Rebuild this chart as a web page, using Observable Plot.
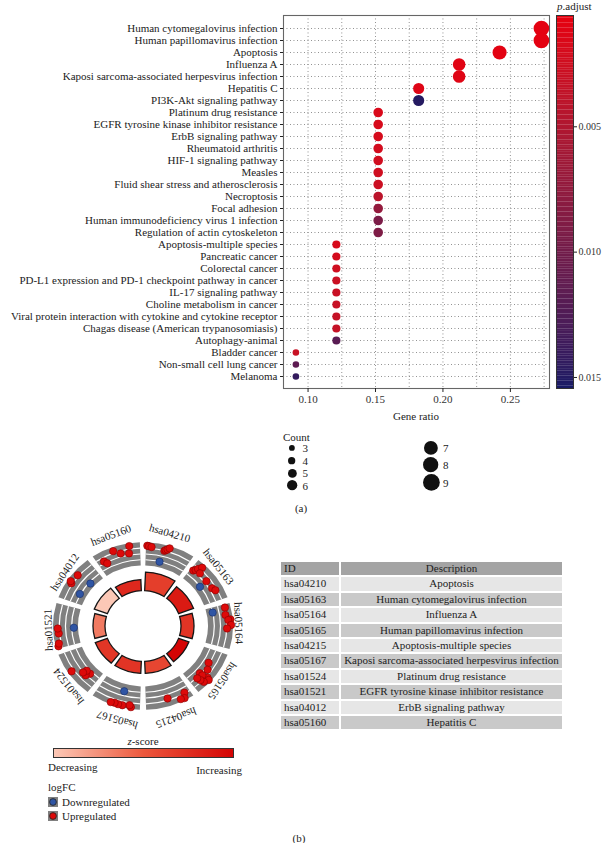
<!DOCTYPE html>
<html><head><meta charset="utf-8">
<script src="https://cdn.jsdelivr.net/npm/d3@7"></script>
<script src="https://cdn.jsdelivr.net/npm/@observablehq/plot@0.6"></script>
<style>
html,body{margin:0;padding:0;background:#fff;}
#root{position:relative;width:603px;height:843px;overflow:hidden;font-family:"Liberation Serif","DejaVu Serif",serif;color:#222;font-size:11px;}
.abs{position:absolute;white-space:nowrap;line-height:1;}
.cell{position:absolute;height:13.4px;line-height:13.6px;font-size:11px;white-space:nowrap;overflow:hidden;box-sizing:border-box;}
</style></head><body><div id="root"></div>
<script>
// ---------------- data: enrichment dot plot (a) ----------------
const terms = ["Human cytomegalovirus infection","Human papillomavirus infection","Apoptosis","Influenza A","Kaposi sarcoma-associated herpesvirus infection","Hepatitis C","PI3K-Akt signaling pathway","Platinum drug resistance","EGFR tyrosine kinase inhibitor resistance","ErbB signaling pathway","Rheumatoid arthritis","HIF-1 signaling pathway","Measles","Fluid shear stress and atherosclerosis","Necroptosis","Focal adhesion","Human immunodeficiency virus 1 infection","Regulation of actin cytoskeleton","Apoptosis-multiple species","Pancreatic cancer","Colorectal cancer","PD-L1 expression and PD-1 checkpoint pathway in cancer","IL-17 signaling pathway","Choline metabolism in cancer","Viral protein interaction with cytokine and cytokine receptor","Chagas disease (American trypanosomiasis)","Autophagy-animal","Bladder cancer","Non-small cell lung cancer","Melanoma"];
const geneRatio = [0.273,0.273,0.242,0.212,0.212,0.182,0.182,0.152,0.152,0.152,0.152,0.152,0.152,0.152,0.152,0.152,0.152,0.152,0.121,0.121,0.121,0.121,0.121,0.121,0.121,0.121,0.121,0.091,0.091,0.091];
const geneCount = [9,9,8,7,7,6,6,5,5,5,5,5,5,5,5,5,5,5,4,4,4,4,4,4,4,4,4,3,3,3];
const pAdjust = [0.0007,0.0007,0.0008,0.0010,0.0011,0.0012,0.0149,0.0016,0.0018,0.0019,0.0021,0.0023,0.0024,0.0027,0.0040,0.0072,0.0092,0.0090,0.0018,0.0020,0.0024,0.0028,0.0029,0.0031,0.0032,0.0032,0.0118,0.0030,0.0115,0.0142];
const xTicks = [0.10,0.15,0.20,0.25];
const xGrid = [0.100,0.125,0.150,0.175,0.200,0.225,0.250,0.275];
const pTicks = [0.005,0.010,0.015];
const countLegendCol1 = [3,4,5,6];
const countLegendCol2 = [7,8,9];

// ---------------- data: GOCircle (b) ----------------
const circleIds = ["hsa04210","hsa05163","hsa05164","hsa05165","hsa04215","hsa05167","hsa01524","hsa01521","hsa04012","hsa05160"];
const circleDesc = ["Apoptosis","Human cytomegalovirus infection","Influenza A","Human papillomavirus infection","Apoptosis-multiple species","Kaposi sarcoma-associated herpesvirus infection","Platinum drug resistance","EGFR tyrosine kinase inhibitor resistance","ErbB signaling pathway","Hepatitis C"];
const tableHeader = ["ID","Description"];
const zScore = [2.12,2.67,2.27,3.00,2.00,2.27,2.24,1.34,0.45,2.45];
const negLogP = [4.0,3.2,2.6,2.2,2.6,2.6,2.6,2.4,2.8,2.4];
const genePos = [
  [0.07,0.10,0.15,0.36,0.40,0.42,0.45,0.48],
  [0.10,0.13,0.15,0.19,0.24,0.45,0.47,0.64,0.71],
  [0.11,0.16,0.26,0.36,0.37,0.47,0.54],
  [0.36,0.50,0.63,0.65,0.66,0.66,0.74,0.76,0.78],
  [0.17,0.22,0.29,0.52],
  [0.23,0.26,0.39,0.43,0.47,0.54,0.61],
  [0.29,0.33,0.39,0.41,0.56],
  [0.11,0.16,0.36,0.46,0.47],
  [0.30,0.41,0.44,0.61,0.64],
  [0.18,0.22,0.43,0.55,0.71,0.74]
];
const geneLogFC = [
  [3.7,3.6,3.4,-0.5,2.9,3.2,3.5,4.0],
  [1.3,1.8,2.5,3.5,1.9,1.7,-0.7,1.8,2.3],
  [2.9,-0.7,2.6,3.8,3.2,3.9,2.8],
  [0.7,1.6,3.0,3.7,0.6,1.5,3.1,2.1,1.1],
  [2.4,3.8,3.6,2.1],
  [3.9,3.4,3.8,-0.3,3.8,3.7,3.9],
  [0.1,1.3,0.2,1.3,3.6],
  [3.9,3.6,3.2,3.4,-1.0],
  [-0.2,3.4,3.9,3.4,-0.8],
  [1.9,1.0,3.6,2.3,1.8,3.9]
];

// ---------------- setup ----------------
const FONT = '"Liberation Serif","DejaVu Serif",serif';
const root = document.getElementById("root");
function place(el, x, y){ el.style.position="absolute"; el.style.left=x+"px"; el.style.top=y+"px"; root.appendChild(el); return el; }
function label(html, x, y, anchor="start", extra=""){
  const el=document.createElement("div"); el.className="abs"; el.innerHTML=html;
  const tx = anchor==="middle"?"-50%":anchor==="end"?"-100%":"0";
  el.style.cssText += `left:${x}px;top:${y}px;transform:translate(${tx},-50%);${extra}`;
  root.appendChild(el); return el;
}

const P_LO = 0.00056, P_HI = 0.01544;
const colorOpts = {type:"linear", domain:[P_LO,P_HI], range:["#e6000f","#141a64"], interpolate:d3.interpolateLab};
const rOpts = {type:"linear", domain:[3,9], range:[3.3,7.8]};
const baseStyle = {fontFamily:FONT, fontSize:"11px", color:"#222", background:"transparent", overflow:"visible"};

const rows = terms.map((t,i)=>({term:t, ratio:geneRatio[i], count:geneCount[i], padj:pAdjust[i]}));

const dotPlot = Plot.plot({
  width:603, height:420, marginLeft:283, marginRight:54, marginTop:15, marginBottom:32,
  style: baseStyle,
  x:{domain:[0.0818,0.279]},
  y:{type:"point", domain:terms, padding:0.57},
  r: rOpts, color: colorOpts,
  marks:[
    Plot.gridX(xGrid, {stroke:"#777", strokeOpacity:1, strokeWidth:0.9, strokeDasharray:"0.9,2.6"}),
    Plot.gridY({stroke:"#777", strokeOpacity:1, strokeWidth:0.9, strokeDasharray:"0.9,2.6"}),
    Plot.frame({stroke:"#666", strokeWidth:1.1}),
    Plot.axisX({ticks:xTicks, tickFormat:d3.format(".2f"), tickSize:4, tickPadding:3, label:null, fill:"#333"}),
    Plot.axisY({tickSize:3, tickPadding:3, label:null, fill:"#222"}),
    Plot.dot(rows, {x:"ratio", y:"term", r:"count", fill:"padj"})
  ]
});
place(dotPlot, 0, 0);

// colour bar
const nSteps = 150, pStep = (P_HI-P_LO)/nSteps;
const steps = d3.range(nSteps).map(i => P_LO + pStep*i);
const cbar = Plot.plot({
  width:47, height:420, marginTop:15, marginBottom:32, marginLeft:0, marginRight:30,
  style: {...baseStyle, fontSize:"10px"},
  y:{domain:[P_LO,P_HI], reverse:true},
  color: colorOpts,
  marks:[
    Plot.rect(steps, {y1:d=>d, y2:d=>Math.min(P_HI, d+pStep*1.05), fill:d=>d}),
    Plot.frame({stroke:"#333", strokeWidth:1}),
    Plot.axisY({anchor:"right", ticks:pTicks, tickFormat:d3.format(".3f"), tickSize:3, tickPadding:2, label:null, fill:"#333", fontSize:10})
  ]
});
place(cbar, 556, 0);
label('<i>p</i>.adjust', 557, 6);
label('Gene ratio', 416, 416, "middle");
label('(a)', 301, 508, "middle");

// size legend (Count)
const rScale = dotPlot.scale("r");
label('Count', 283, 437);
function sizeColumn(vals, cx, firstCenter, tx, boost){
  let r0 = rScale.apply(vals[0]) + boost;
  let top = firstCenter - Math.max(12.4, 2*r0+2)/2;
  for (const v of vals){
    const r = rScale.apply(v) + boost, h = Math.max(12.4, 2*r+2), cy = top + h/2;
    const s = document.createElementNS("http://www.w3.org/2000/svg","svg");
    s.setAttribute("width", 2*r+2); s.setAttribute("height", 2*r+2);
    s.innerHTML = `<circle cx="${r+1}" cy="${r+1}" r="${r}" fill="#111"/>`;
    place(s, cx-r-1, cy-r-1);
    label(String(v), tx, cy);
    top += h;
  }
}
sizeColumn(countLegendCol1, 292, 448.3, 302.5, -0.4);
sizeColumn(countLegendCol2, 431, 448, 443, 0.6);

// ---------------- GOCircle ----------------
const KY = 0.93, SECT = 360/circleIds.length, rad = Math.PI/180;
const BAND_IN = 65, BAND_OUT = 90, BAR_IN = 38;
const lfcR = d3.scaleLinear([-2,4],[66,88]);
const barR = d3.scaleLinear([0,4],[38,58]);
const zColor = d3.scaleLinear([0.45,1.7,3.0],["#fcc8b6","#ec5a3e","#d40404"]);
const RED = "#dd0a0a", BLUE = "#2f55a4";

const genes = [];
genePos.forEach((ps,i)=>ps.forEach((p,j)=>genes.push({term:i, theta:(SECT*i + SECT*p)*rad, lfc:geneLogFC[i][j]})));

function ringMark(index, scales, values, dims){
  const cx = scales && scales.x ? scales.x(0) : dims.width/2;
  const cy = scales && scales.y ? scales.y(0) : dims.height/2;
  const g = d3.create("svg:g").attr("transform",`translate(${cx},${cy}) scale(1,${KY})`);
  circleIds.forEach((id,i)=>{
    const a0 = SECT*i, a1 = SECT*(i+1);
    const band = d3.arc().innerRadius(BAND_IN).outerRadius(BAND_OUT).startAngle((a0+2)*rad).endAngle((a1-2)*rad);
    g.append("path").attr("d", band()).attr("fill","#808080");
    [0.25,0.5,0.75].forEach(f=>{
      const rr = BAND_IN + (BAND_OUT-BAND_IN)*f;
      const ln = d3.arc().innerRadius(rr-0.6).outerRadius(rr+0.6).startAngle((a0+2)*rad).endAngle((a1-2)*rad);
      g.append("path").attr("d", ln()).attr("fill","#fff");
    });
    const bar = d3.arc().innerRadius(BAR_IN).outerRadius(barR(negLogP[i])).startAngle((a0+2.5)*rad).endAngle((a1-2.5)*rad);
    g.append("path").attr("d", bar()).attr("fill", zColor(zScore[i])).attr("stroke","#151515").attr("stroke-width",1.3).attr("vector-effect","non-scaling-stroke");
  });
  return g.node();
}

const circ = Plot.plot({
  width:220, height:220, margin:0,
  style: baseStyle,
  x:{domain:[-110,110], axis:null},
  y:{domain:[-110,110], axis:null},
  marks:[
    ringMark,
    Plot.dot(genes.filter(d=>d.lfc>=0), {x:d=>lfcR(d.lfc)*Math.sin(d.theta), y:d=>lfcR(d.lfc)*Math.cos(d.theta)*KY, r:3.7, fill:RED, stroke:"#8a0000", strokeWidth:0.6}),
    Plot.dot(genes.filter(d=>d.lfc<0), {x:d=>lfcR(d.lfc)*Math.sin(d.theta), y:d=>lfcR(d.lfc)*Math.cos(d.theta)*KY, r:3.7, fill:BLUE, stroke:"#1a2d66", strokeWidth:0.6}),
    Plot.text(circleIds, {
      x:(d,i)=>95*Math.sin((SECT*i+SECT/2-2)*rad),
      y:(d,i)=>97*Math.cos((SECT*i+SECT/2-2)*rad),
      rotate:(d,i)=>SECT*i+SECT/2-2, text:d=>d, fontSize:11, fill:"#222"
    })
  ]
});
place(circ, 33, 516);

// z-score legend
label('<i>z</i>-score', 143, 741, "middle");
const grad = document.createElement("div");
const stops = d3.range(0,1.0001,0.1).map(t=>zColor(0.45+t*(3.0-0.45)));
grad.style.cssText = `width:179px;height:8px;border:1px solid #333;background:linear-gradient(to right,${stops.join(",")});`;
place(grad, 53, 748);
label('Decreasing', 48, 767);
label('Increasing', 242, 770, "end");
label('logFC', 48, 787);
function fcKey(color, y, text){
  const s = document.createElementNS("http://www.w3.org/2000/svg","svg");
  s.setAttribute("width",10); s.setAttribute("height",10);
  s.innerHTML = `<rect x="0" y="0" width="10" height="10" fill="#808080"/><circle cx="5" cy="5" r="3.4" fill="${color}" stroke="#222" stroke-width="0.8"/>`;
  place(s, 47.5, y-5);
  label(text, 62, y);
}
fcKey(BLUE, 802, "Downregulated");
fcKey(RED, 816, "Upregulated");
label('(b)', 299, 838, "middle");

// table (absolute cells)
const T_X = 281, T_Y = 562, C1W = 58, GAP = 2, C2W = 221, PITCH = 15.4;
function cell(text, x, y, w, bg, align){
  const el = document.createElement("div"); el.className = "cell";
  el.textContent = text;
  el.style.cssText += `left:${x}px;top:${y}px;width:${w}px;background:${bg};text-align:${align};padding-left:${align==="left"?3:0}px;`;
  root.appendChild(el);
}
cell(tableHeader[0], T_X, T_Y, C1W, "#a4a4a4", "left");
cell(tableHeader[1], T_X+C1W+GAP, T_Y, C2W, "#a4a4a4", "center");
circleIds.forEach((id,i)=>{
  const bg = i%2===0 ? "#e6e6e6" : "#c9c9c9";
  const y = T_Y + PITCH*(i+1);
  cell(id, T_X, y, C1W, bg, "left");
  cell(circleDesc[i], T_X+C1W+GAP, y, C2W, bg, "center");
});
</script></body></html>
